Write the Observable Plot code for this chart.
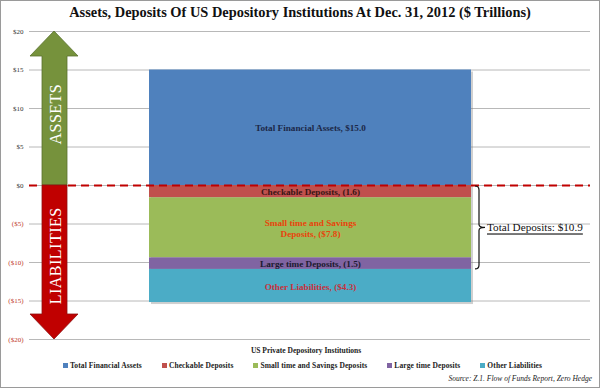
<!DOCTYPE html>
<html>
<head>
<meta charset="utf-8">
<script src="https://cdn.jsdelivr.net/npm/d3@7"></script>
<script src="https://cdn.jsdelivr.net/npm/@observablehq/plot@0.6"></script>
<style>
  html, body { margin: 0; padding: 0; background: #fff; }
  #wrap { position: relative; width: 600px; height: 388px; background: #fff; box-shadow: inset 0 0 0 1px #9a9a9a; overflow: hidden; font-family: "Liberation Serif", "DejaVu Serif", serif; }
  #title { position: absolute; left: 0; top: 4px; width: 600px; text-align: center; font-weight: bold; font-size: 14.4px; color: #111; }
  #chart { position: absolute; left: 0; top: 24px; }
  #xlabel { position: absolute; left: 0; top: 346px; width: 612px; text-align: center; font-weight: bold; font-size: 7.5px; color: #222; }
  #legend { position: absolute; left: 0; top: 361px; width: 605px; display: flex; justify-content: center; gap: 20px; font-weight: bold; font-size: 7.5px; letter-spacing: 0.1px; color: #222; }
  #legend span.sw { display: inline-block; width: 5px; height: 5px; margin-right: 2px; vertical-align: 0px; }
  #source { position: absolute; right: 8px; top: 374px; font-style: italic; font-size: 7.5px; color: #222; }
</style>
</head>
<body>
<div id="wrap">
  <div id="title"></div>
  <div id="chart"></div>
  <div id="xlabel"></div>
  <div id="legend"></div>
  <div id="source"></div>
</div>
<script>
const titleText = "Assets, Deposits Of US Depository Institutions At Dec. 31, 2012 ($ Trillions)";
const group = "US Private Depository Institutions";
const categories = ["Total Financial Assets", "Checkable Deposits", "Small time and Savings Deposits", "Large time Deposits", "Other Liabilities"];
const values = [15.0, -1.6, -7.8, -1.5, -4.3];
const barLabels = ["Total Financial Assets, $15.0", "Checkable Deposits, (1.6)", "Small time and Savings\nDeposits, ($7.8)", "Large time Deposits, (1.5)", "Other Liabilities, ($4.3)"];
const colors = ["#4f81bd", "#c0504d", "#9bbb59", "#8064a2", "#4bacc6"];
const labelColors = ["#1c2848", "#3a1515", "#e8440c", "#1c1a30", "#c8323c"];
const yTicks = [-20, -15, -10, -5, 0, 5, 10, 15, 20];
const totalDeposits = 10.9;
const sourceText = "Source: Z.1. Flow of Funds Report, Zero Hedge";

const data = categories.map((c, i) => ({group, category: c, value: values[i], label: barLabels[i], labelColor: labelColors[i]}));
const fmt = v => v >= 0 ? `$${v}` : `($${-v})`;

document.getElementById("title").textContent = titleText;
document.getElementById("xlabel").textContent = group;
document.getElementById("source").textContent = sourceText;
const leg = document.getElementById("legend");
categories.forEach((c, i) => {
  const item = document.createElement("div");
  const sw = document.createElement("span");
  sw.className = "sw";
  sw.style.background = colors[i];
  item.appendChild(sw);
  item.appendChild(document.createTextNode(c));
  leg.appendChild(item);
});

// Decorative arrows + deposits bracket, drawn from the plot's scales
function arrowsMark(index, scales, values, dim) {
  const y = scales.y;
  const g = d3.create("svg:g");
  const xl = dim.marginLeft + 1, xr = xl + 48;
  const sl = xl + 12, sr = xl + 37;
  const cx = (xl + xr) / 2;
  const y0 = y(0), yTop = y(20), yBot = y(-20);
  const head = 25;
  g.append("path")
    .attr("d", `M${cx},${yTop} L${xr},${yTop + head} L${sr},${yTop + head} L${sr},${y0} L${sl},${y0} L${sl},${yTop + head} L${xl},${yTop + head} Z`)
    .attr("fill", "#76923c").attr("stroke", "#5b722e").attr("stroke-width", 0.8);
  g.append("path")
    .attr("d", `M${cx},${yBot} L${xr},${yBot - head} L${sr},${yBot - head} L${sr},${y0} L${sl},${y0} L${sl},${yBot - head} L${xl},${yBot - head} Z`)
    .attr("fill", "#c00000").attr("stroke", "#8e1010").attr("stroke-width", 0.8);
  [["ASSETS", 9.2], ["LIABILITIES", -9.2]].forEach(([t, v]) => {
    g.append("text")
      .attr("transform", `translate(${cx + 1},${y(v)}) rotate(-90)`)
      .attr("text-anchor", "middle").attr("dominant-baseline", "central")
      .attr("fill", "#fff").attr("font-family", "Liberation Serif, serif")
      .attr("font-size", 16).attr("letter-spacing", 0.5)
      .text(t);
  });
  // bracket for total deposits
  const bw = scales.x.bandwidth ? scales.x.bandwidth() : 0;
  const bx = scales.x(group) + bw + 4;
  const ya = y(0) + 1, yb = y(-totalDeposits), ym = (ya + yb) / 2;
  g.append("path")
    .attr("d", `M${bx},${ya} Q${bx + 4},${ya} ${bx + 4},${ya + 4} V${ym - 3} Q${bx + 4},${ym} ${bx + 10},${ym} Q${bx + 4},${ym} ${bx + 4},${ym + 3} V${yb - 4} Q${bx + 4},${yb} ${bx},${yb}`)
    .attr("fill", "none").attr("stroke", "#111").attr("stroke-width", 1.2);
  g.append("text")
    .attr("x", bx + 12).attr("y", ym)
    .attr("text-anchor", "start")
    .attr("dominant-baseline", "central")
    .attr("font-family", "Liberation Serif, serif").attr("font-size", 11.2)
    .attr("fill", "#111").attr("text-decoration", "underline")
    .text(`Total Deposits: $${totalDeposits}`);
  return g.node();
}

const plot = Plot.plot({
  width: 600,
  height: 321,
  marginTop: 7,
  marginBottom: 6,
  marginLeft: 29,
  marginRight: 10,
  style: {fontFamily: "Liberation Serif, serif", background: "transparent"},
  x: {domain: [group], padding: 0.27, axis: null},
  y: {domain: [-20, 20], axis: null},
  color: {domain: categories, range: colors},
  marks: [
    Plot.gridY(yTicks, {stroke: "#b8b8b8", strokeOpacity: 1}),
    Plot.axisY(yTicks.filter(v => v >= 0), {tickSize: 0, tickPadding: 6, tickFormat: fmt, fill: "#333", fontSize: 7, label: null}),
    Plot.axisY(yTicks.filter(v => v < 0), {tickSize: 0, tickPadding: 6, tickFormat: fmt, fill: "#c0392b", fontSize: 7, label: null}),
    Plot.barY(data, Plot.stackY({x: "group", y: "value", fill: "#777", fillOpacity: 0.35, dx: 2, dy: 2, inset: 0})),
    Plot.barY(data, Plot.stackY({x: "group", y: "value", fill: "category", inset: 0})),
    Plot.text(data, Plot.stackY({x: "group", y: "value", text: "label", fill: "labelColor", fontSize: 9.2, fontWeight: "bold", lineHeight: 1.25})),
    Plot.ruleY([0], {stroke: "#c00000", strokeWidth: 2, strokeDasharray: "8,5"}),
    arrowsMark
  ]
});
document.getElementById("chart").appendChild(plot);
</script>
</body>
</html>
